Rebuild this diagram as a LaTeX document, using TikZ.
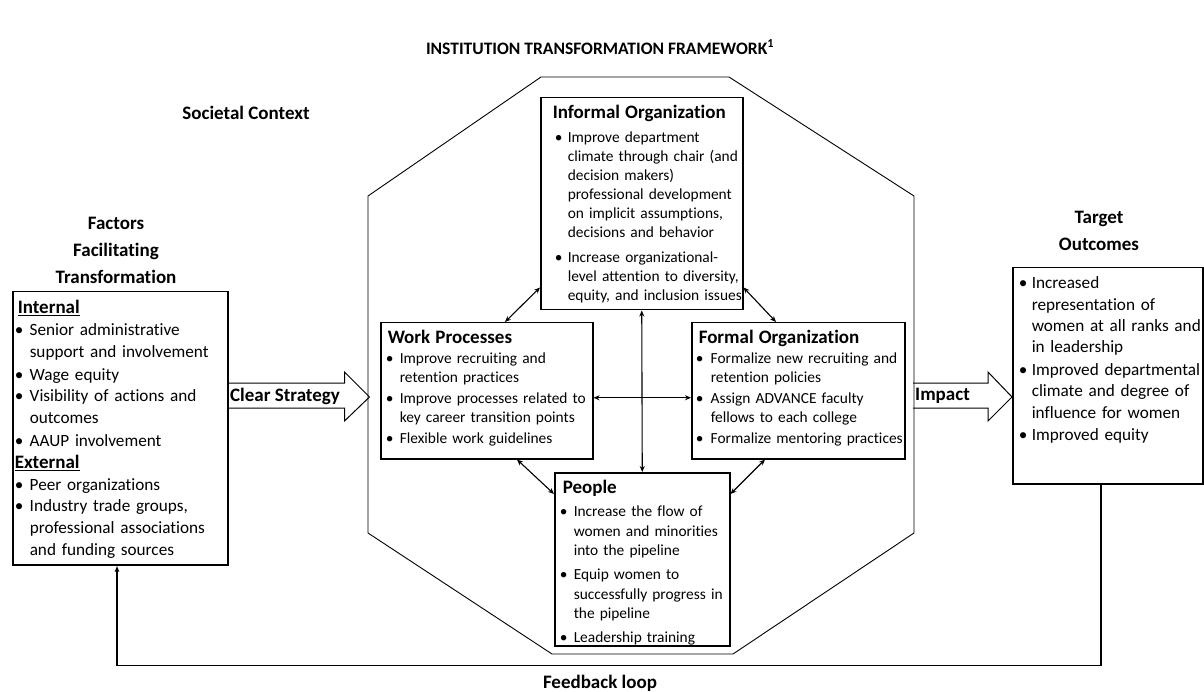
\documentclass[tikz,border=0pt]{standalone}
\usepackage{fontspec}
\setmainfont{Carlito}[Ligatures=NoCommon]
\usetikzlibrary{arrows.meta, positioning, calc}

% one bullet point; its lines are kept as written
\newlength{\bulpre}
\newlength{\bulw}
\newcommand{\bul}[1]{\hspace*{\bulpre}\makebox[\bulw][l]{\textbullet}%
  \begin{tabular}[t]{@{}l@{}}#1\end{tabular}}
\newcommand{\hd}[1]{{\fontsize{19}{23}\selectfont\bfseries #1}}

\tikzset{
  panel/.style={draw, line width=1.5pt, anchor=north west, align=left,
                inner xsep=2pt, inner ysep=0pt, text height=21pt},
  smalltext/.style={font=\fontsize{15.4}{19.5}\selectfont},
  largetext/.style={font=\fontsize{17.2}{21.8}\selectfont},
  bullets/.style 2 args={execute at begin node={%
      \setlength{\bulpre}{#1}\setlength{\bulw}{#2}}},
  heading/.style={font=\fontsize{19}{27}\selectfont\bfseries, align=center},
  link/.style={<->, line width=1.1pt},
  blockarrow/.style={line width=1pt},
  feedback/.style={-{Latex[length=6pt, width=5pt]}, line width=1.5pt}
}

\begin{document}
\begin{tikzpicture}[x=1pt, y=-1pt, >={Stealth[length=6pt, width=5pt]}]
  \useasboundingbox (0,0) rectangle (1204,692);

  % Title and free labels
  \node[heading, font=\fontsize{17.5}{21}\selectfont\bfseries] (ttl) at (600,47)
    {INSTITUTION TRANSFORMATION FRAMEWORK\textsuperscript{1}};
  \node[heading] (soc) at (246,113) {Societal Context};
  \node[heading] (facl) at (116,250) {Factors\\Facilitating\\Transformation};
  \node[heading] (tgtl) at (1099,231) {Target\\Outcomes};
  \node[heading] (fbl) at (600,683) {Feedback loop};

  % Institution outline
  \draw[line width=0.9pt] (541,77) -- (729,77) -- (914,196) -- (914,533)
    -- (733,654) -- (552,654) -- (368,533) -- (368,196) -- cycle;

  % Left: facilitating factors
  \node[panel, largetext, bullets={0pt}{15pt}, text width=211pt,
        text height=22pt, text depth=251pt] (fac) at (12,291)
    {\hd{\hspace*{3pt}\underline{Internal}}\\
     \bul{Senior administrative\\support and involvement}\\
     \bul{Wage equity}\\
     \bul{Visibility of actions and\\outcomes}\\
     \bul{AAUP involvement}\\
     \hd{\underline{External}}\\
     \bul{Peer organizations}\\
     \bul{Industry trade groups,\\professional associations\\and funding sources}};

  % The four parts of the institution
  \node[panel, smalltext, font=\fontsize{15.4}{19}\selectfont,
        bullets={12pt}{13pt}, text width=198pt, text depth=191pt] (inf) at (540,97)
    {\hd{\hspace*{10pt}Informal Organization}\\[4.5pt]
     \bul{Improve department\\climate through chair (and\\decision makers)\\professional development\\on implicit assumptions,\\decisions and behavior}\\[5pt]
     \bul{Increase organizational-\\level attention to diversity,\\equity, and inclusion issues}};

  \node[panel, smalltext, bullets={3pt}{14pt}, text width=208pt,
        text depth=115pt] (wrk) at (380,322)
    {\hd{\hspace*{5pt}Work Processes}\\
     \bul{Improve recruiting and\\retention practices}\\
     \bul{Improve processes related to\\key career transition points}\\
     \bul{Flexible work guidelines}};

  \node[panel, smalltext, bullets={2pt}{15pt}, text width=209pt,
        text depth=115pt] (frm) at (691,322)
    {\hd{\hspace*{5pt}Formal Organization}\\
     \bul{Formalize new recruiting and\\retention policies}\\
     \bul{Assign ADVANCE faculty\\fellows to each college}\\
     \bul{Formalize mentoring practices}};

  \node[panel, smalltext, bullets={3pt}{14pt}, text width=171pt,
        text depth=152pt] (ppl) at (554,472)
    {\hd{\hspace*{6pt}People}\\[3.5pt]
     \bul{Increase the flow of\\women and minorities\\into the pipeline}\\[3.5pt]
     \bul{Equip women to\\successfully progress in\\the pipeline}\\[3.5pt]
     \bul{Leadership training}};

  % Right: outcomes
  \node[panel, largetext, font=\fontsize{17.2}{21.4}\selectfont,
        bullets={3pt}{13pt}, inner xsep=3pt, text width=184pt,
        text depth=195pt] (tgt) at (1012,267)
    {\bul{Increased\\representation of\\women at all ranks and\\in leadership}\\
     \bul{Improved departmental\\climate and degree of\\influence for women}\\
     \bul{Improved equity}};

  % Links between the parts
  \draw[link] ($(inf.south west)+(0,-23)$) -- ($(wrk.north west)+(125,0)$);
  \draw[link] ($(inf.south east)+(0,-23)$) -- ($(frm.north west)+(85,0)$);
  \draw[link] (inf.south) -- (ppl.north);
  \draw[link] ($(wrk.east)+(0,7)$) -- ($(frm.west)+(0,7)$);
  \draw[link] ($(wrk.south west)+(137,0)$) -- ($(ppl.north west)+(0,22)$);
  \draw[link] ($(frm.south west)+(74,0)$) -- ($(ppl.north east)+(0,22)$);

  % Block arrows
  \draw[blockarrow] ($(fac.north east)+(0,92)$) -- ++(116,0) -- ++(0,-11)
    -- ++(25,25) -- ++(-25,24) -- ++(0,-13) -- ++(-116,0);
  \node[heading] (clr) at (285,396) {Clear Strategy};

  \draw[blockarrow] ($(tgt.north west)+(-99,116)$) -- ++(75,0) -- ++(0,-11)
    -- ++(24,25) -- ++(-24,24) -- ++(0,-13) -- ++(-75,0);
  \node[heading, anchor=west, inner sep=0pt] (imp) at (915,396) {Impact};

  % Feedback loop
  \draw[feedback] ($(tgt.south west)+(89,0)$) -- ++(0,181)
    -| ($(fac.south west)+(105,0)$);
\end{tikzpicture}
\end{document}
